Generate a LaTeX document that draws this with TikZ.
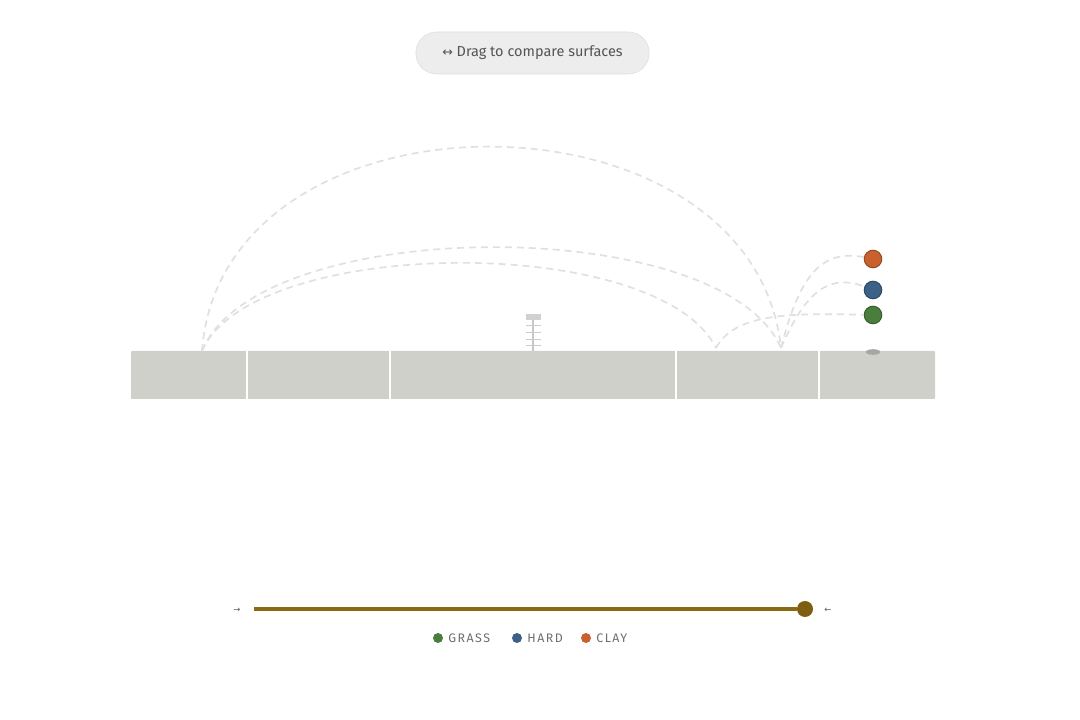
\documentclass[tikz,border=0pt]{standalone}
\usepackage{fontspec}
\setmainfont{Fira Sans}
\newfontfamily\legendfont[LetterSpace=12]{Fira Sans}
\newfontfamily\symfont{DejaVu Sans}
\usetikzlibrary{positioning, calc}
\definecolor{courtGray}{HTML}{D0D0CA}
\definecolor{trailGray}{HTML}{E0E0E0}
\definecolor{clayColor}{HTML}{C8612D}
\definecolor{hardColor}{HTML}{3B6186}
\definecolor{grassColor}{HTML}{4A7E3C}
\definecolor{sliderColor}{HTML}{8C6A14}
\definecolor{textGray}{HTML}{555555}
\tikzset{
  trail/.style = {
    draw=trailGray,
    line width=1.2pt,
    dash pattern=on 5pt off 3.5pt,
  },
  ball/.style = {
    circle,
    inner sep=0,
    minimum size=0.44cm,
    line width=0.7pt,
  },
  dot/.style = {
    circle,
    inner sep=0,
    minimum size=0.25cm,
  },
  legendText/.style = {
    font=\legendfont\fontsize{8.8}{10}\selectfont,
    text=textGray!85,
    anchor=west,
    inner sep=0,
  },
  divider/.style = {
    draw=white,
    line width=1.4pt,
  },
}

\begin{document}
\begin{tikzpicture}[x=0.025cm, y=-0.025cm]
\useasboundingbox (0,0) rectangle (1080,720);

% button
\node(Button)[
  draw=black!13, fill=black!7, rounded corners=0.52cm,
  minimum width=5.83cm, minimum height=1.05cm,
  font=\fontsize{10.3}{12}\selectfont, text=textGray,
] at (532.5,53) {{\symfont\small ↔} Drag to compare surfaces};

% court
\fill[courtGray, rounded corners=0.6pt] (131,351) rectangle (935,399);
\foreach \x in {247,390,676,819}
  \draw[divider] (\x,351) -- (\x,399);

% net
\draw[black!22, line width=1pt] (533,319) -- (533,351);
\fill[black!18] (526,314) rectangle (541,320);
\foreach \y in {325,332,339,345}
  \draw[black!20, line width=0.6pt] (526,\y) -- (541,\y);

% balls
\node(Clay)[ball, fill=clayColor, draw=clayColor!75!black] at (873,259) {};
\node(Hard)[ball, fill=hardColor, draw=hardColor!75!black] at (873,290) {};
\node(Grass)[ball, fill=grassColor, draw=grassColor!75!black] at (873,315) {};
\fill[black!35] (873,352) ellipse (0.18cm and 0.07cm);

\coordinate(Serve) at (202,351);
\coordinate(BounceFar) at (781,348);
\coordinate(BounceNear) at (716,348);

% trajectories
\draw[trail] (Serve) .. controls (222,79) and (752,79) .. (BounceFar);
\draw[trail] (Serve) .. controls (258,214) and (722,212) .. (BounceFar);
\draw[trail] (Serve) .. controls (252,236) and (658,232) .. (BounceNear);
\draw[trail] (BounceFar) .. controls (798,282) and (818,248) .. (Clay);
\draw[trail] (BounceFar) .. controls (800,305) and (822,270) .. (Hard);
\draw[trail] (BounceNear) .. controls (735,313) and (790,313) .. (Grass);

% slider
\node(Thumb)[circle, fill=sliderColor!90!black, inner sep=0, minimum size=0.4cm] at (805,609) {};
\coordinate(TrackStart) at (254,609);
\draw[sliderColor, line width=2.4pt] (TrackStart) -- (Thumb);
\node(ArrowLeft)[text=black!65, font=\symfont\fontsize{6}{7}\selectfont] at (237,610) {→};
\node(ArrowRight)[text=black!65, font=\symfont\fontsize{6}{7}\selectfont] at (828,610) {←};

% legend
\node(GrassDot)[dot, fill=grassColor] at (438,638) {};
\node(GrassText)[legendText, right=0.12cm of GrassDot] {GRASS};
\node(HardDot)[dot, fill=hardColor] at (517,638) {};
\node(HardText)[legendText, right=0.12cm of HardDot] {HARD};
\node(ClayDot)[dot, fill=clayColor] at (586,638) {};
\node(ClayText)[legendText, right=0.12cm of ClayDot] {CLAY};

\end{tikzpicture}
\end{document}
